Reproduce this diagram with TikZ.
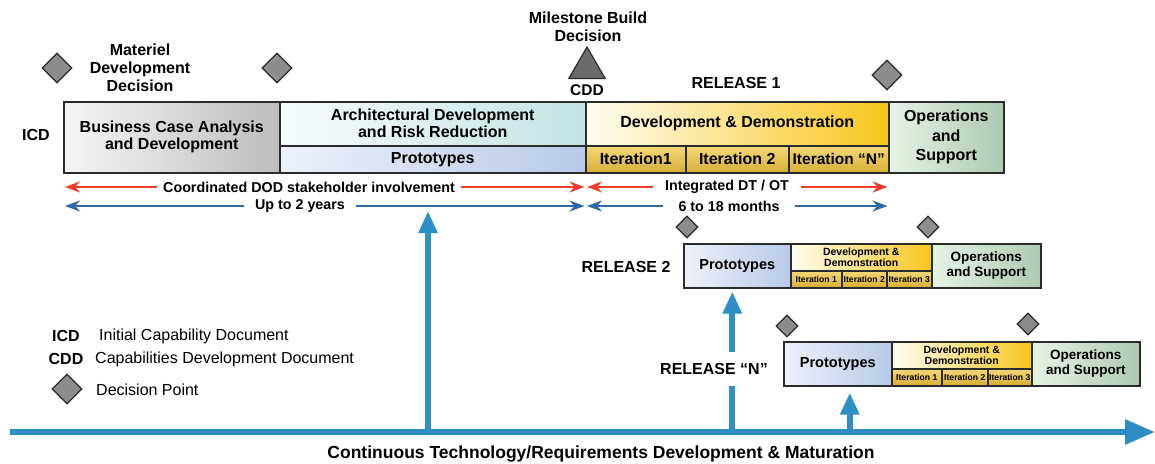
\documentclass[tikz,border=0pt]{standalone}
\usepackage{fontspec}
\setmainfont{Liberation Sans}
\usetikzlibrary{arrows.meta,shapes.geometric}

\definecolor{boxline}{HTML}{2B2B2B}
\definecolor{decfill}{HTML}{8C8C8C}
\definecolor{msfill}{HTML}{6B6B6B}
\definecolor{bcaL}{HTML}{F5F5F5}
\definecolor{bcaR}{HTML}{BDBDBD}
\definecolor{adrrL}{HTML}{F7FCFC}
\definecolor{adrrR}{HTML}{C2E3E5}
\definecolor{protoL}{HTML}{EDF2FA}
\definecolor{protoR}{HTML}{B8C9E8}
\definecolor{ddL}{HTML}{FFFDF2}
\definecolor{ddR}{HTML}{F8C61C}
\definecolor{iterT}{HTML}{F4D978}
\definecolor{iterB}{HTML}{D8AE34}
\definecolor{opsL}{HTML}{E4F4E4}
\definecolor{opsR}{HTML}{AFC9B1}
\definecolor{coordred}{HTML}{EE3D2C}
\definecolor{spanblue}{HTML}{2D69A8}
\definecolor{flowblue}{HTML}{2E8FC6}

\tikzset{
  box/.style={draw=boxline, line width=1.5pt, anchor=north west, inner sep=1pt, align=center, font=\bfseries\fontsize{16}{17}\selectfont},
  protobox/.style={box, left color=protoL, right color=protoR},
  ddbox/.style={box, left color=ddL, right color=ddR},
  opsbox/.style={box, left color=opsL, right color=opsR},
  iterbox/.style={box, top color=iterT, bottom color=iterB},
  smallproto/.style={protobox, font=\bfseries\fontsize{14.5}{16}\selectfont},
  smalldd/.style={ddbox, font=\bfseries\fontsize{10.5}{11.5}\selectfont},
  smalliter/.style={iterbox, inner sep=0pt, font=\bfseries\fontsize{8.6}{9}\selectfont},
  smallops/.style={opsbox, font=\bfseries\fontsize{13.5}{15}\selectfont},
  heading/.style={font=\bfseries\fontsize{16}{18}\selectfont, align=center, inner sep=0pt},
  legend/.style={font=\fontsize{16}{17}\selectfont, anchor=west, inner sep=0pt},
  decision/.style={diamond, draw=boxline, fill=decfill, line width=1.2pt, inner sep=0pt, minimum width=30pt, minimum height=30pt},
  smalldecision/.style={decision, minimum width=22pt, minimum height=22pt},
  spanlabel/.style={font=\bfseries\fontsize{14.3}{16}\selectfont, inner ysep=0pt},
  redspan/.style={draw=coordred, line width=2.6pt, -{Stealth[length=15pt,width=11pt,inset=5pt]}, shorten >=2pt},
  bluespan/.style={redspan, draw=spanblue},
  flow/.style={draw=flowblue, line width=6pt, -{Triangle[length=30pt,width=24pt]}},
  rise/.style={draw=flowblue, line width=6pt, -{Triangle[length=22pt,width=18pt]}}
}

\begin{document}
\begin{tikzpicture}[x=1pt,y=-1pt]
\useasboundingbox (0,0) rectangle (1155,463);

% release 1
\node[decision] (mdd) at (57,68) {};
\node[heading] (mddtext) at (140,68) {Materiel\\Development\\Decision};
\node[decision] (dp1) at (277,68) {};
\node[heading] (mbdtext) at (588,27) {Milestone Build\\Decision};
\node[regular polygon, regular polygon sides=3, draw=boxline, fill=msfill, line width=1.2pt, inner sep=0pt, minimum size=42pt] (mbd) at (587,68) {};
\node[heading, font=\bfseries\fontsize{15.5}{17}\selectfont] (cdd) at (587,90) {CDD};
\node[heading] (rel1) at (736,83) {RELEASE 1};
\node[decision] (dp2) at (887,75) {};
\node[heading] (icd) at (36,135) {ICD};

\node[box, left color=bcaL, right color=bcaR, minimum width=216pt, minimum height=71pt] (bca) at (63,101) {Business Case Analysis\\and Development};
\node[box, left color=adrrL, right color=adrrR, minimum width=306pt, minimum height=44pt] (adrr) at (279,101) {Architectural Development\\and Risk Reduction};
\node[protobox, minimum width=306pt, minimum height=27pt] (proto1) at (279,145) {Prototypes};
\node[ddbox, minimum width=303pt, minimum height=44pt] (dd1) at (585,101) {Development \& Demonstration};
\node[iterbox, minimum width=100pt, minimum height=27pt] (it1a) at (585,145) {Iteration1};
\node[iterbox, minimum width=103pt, minimum height=27pt] (it1b) at (685,145) {Iteration 2};
\node[iterbox, minimum width=100pt, minimum height=27pt, font=\bfseries\fontsize{15.5}{17}\selectfont] (it1n) at (788,145) {Iteration “N”};
\node[opsbox, minimum width=115pt, minimum height=71pt, font=\bfseries\fontsize{16}{19.5}\selectfont] (ops1) at (888,101) {Operations\\and\\Support};

% spans
\node[spanlabel, inner xsep=6pt] (coord) at (309,187) {Coordinated DOD stakeholder involvement};
\draw[redspan] (coord) -- (bca.south west |- coord);
\draw[redspan] (coord) -- (proto1.south east |- coord);
\node[spanlabel, inner xsep=12pt] (dtot) at (727,187) {Integrated DT / OT};
\draw[redspan] (dtot) -- (dd1.south west |- dtot);
\draw[redspan] (dtot) -- (it1n.south east |- dtot);
\node[spanlabel, inner xsep=11pt] (twoyears) at (300,206) {Up to 2 years};
\draw[bluespan] (twoyears) -- (bca.south west |- twoyears);
\draw[bluespan] (twoyears) -- (proto1.south east |- twoyears);
\node[spanlabel, inner xsep=15pt] (months) at (729,206) {6 to 18 months};
\draw[bluespan] (months) -- (dd1.south west |- months);
\draw[bluespan] (months) -- (it1n.south east |- months);

% release 2
\node[heading] (rel2) at (626,267) {RELEASE 2};
\node[smalldecision] (dp3) at (687,227) {};
\node[smalldecision] (dp4) at (928,227) {};
\node[smallproto, minimum width=107pt, minimum height=44pt] (proto2) at (683,243) {Prototypes};
\node[smalldd, minimum width=141pt, minimum height=27pt] (dd2) at (790,243) {Development \&\\Demonstration};
\node[smalliter, minimum width=51pt, minimum height=17pt] (it2a) at (790,270) {Iteration 1};
\node[smalliter, minimum width=45pt, minimum height=17pt] (it2b) at (841,270) {Iteration 2};
\node[smalliter, minimum width=45pt, minimum height=17pt] (it2c) at (886,270) {Iteration 3};
\node[smallops, minimum width=109pt, minimum height=44pt] (ops2) at (931,243) {Operations\\and Support};

% release N
\node[smalldecision] (dp5) at (787,326) {};
\node[smalldecision] (dp6) at (1028,324) {};
\node[smallproto, minimum width=108pt, minimum height=44pt] (protoN) at (783,341) {Prototypes};
\node[smalldd, minimum width=140pt, minimum height=27pt] (ddN) at (891,341) {Development \&\\Demonstration};
\node[smalliter, minimum width=50pt, minimum height=17pt] (itNa) at (891,368) {Iteration 1};
\node[smalliter, minimum width=46pt, minimum height=17pt] (itNb) at (941,368) {Iteration 2};
\node[smalliter, minimum width=44pt, minimum height=17pt] (itNc) at (987,368) {Iteration 3};
\node[smallops, minimum width=108pt, minimum height=44pt] (opsN) at (1031,341) {Operations\\and Support};

% continuous flow
\coordinate (flowstart) at (10,432);
\coordinate (flowend) at (1155,432);
\coordinate (up1) at (428,211);
\draw[flow] (flowstart) -- (flowend);
\draw[rise] (up1 |- flowstart) -- (up1);
\draw[rise, shorten >=3pt] ([xshift=-5pt]proto2.south |- flowstart) -- ([xshift=-5pt]proto2.south);
\draw[rise, shorten >=6pt] ([xshift=12pt]protoN.south |- flowstart) -- ([xshift=12pt]protoN.south);
\node[heading, fill=white, inner xsep=2pt, inner ysep=11pt] (relN) at (714,369) {RELEASE “N”};
\node[heading, font=\bfseries\fontsize{17.5}{19}\selectfont] (flowtext) at (601,454) {Continuous Technology/Requirements Development \& Maturation};

% legend
\node[heading, font=\bfseries\fontsize{16}{17}\selectfont] (keyicd) at (66,336) {ICD};
\node[legend] (keyicdtext) at (99,336) {Initial Capability Document};
\node[heading, font=\bfseries\fontsize{16}{17}\selectfont] (keycdd) at (66,359) {CDD};
\node[legend] (keycddtext) at (95,359) {Capabilities Development Document};
\node[decision] (keydp) at (67,389) {};
\node[legend] (keydptext) at (96,390) {Decision Point};

\end{tikzpicture}
\end{document}
